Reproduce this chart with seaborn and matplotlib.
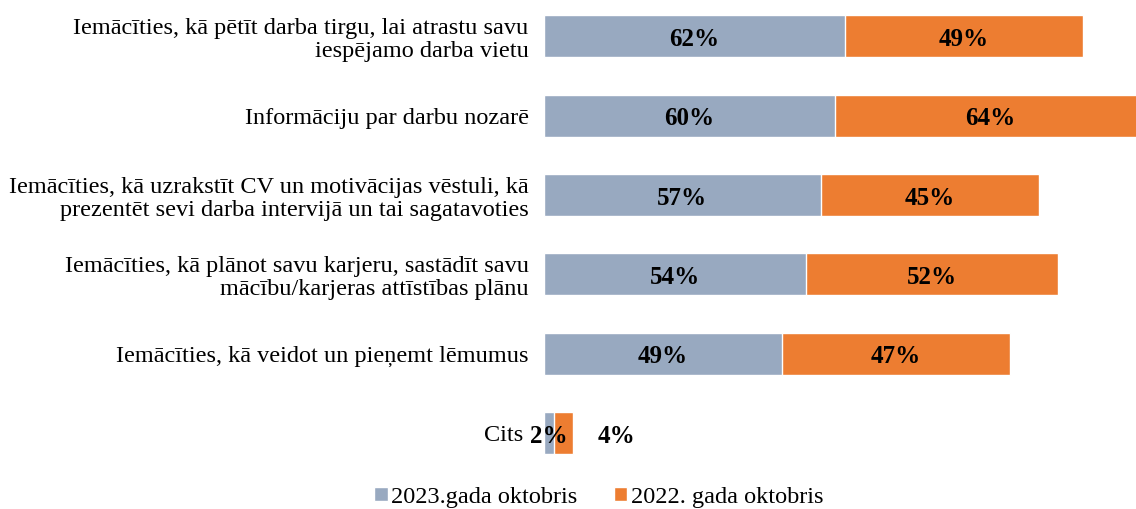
import matplotlib as mpl
import matplotlib.pyplot as plt
import numpy as np
import pandas as pd
import seaborn as sns

categories = [
    'Iemācīties, kā pētīt darba tirgu, lai atrastu savu\niespējamo darba vietu',
    'Informāciju par darbu nozarē',
    'Iemācīties, kā uzrakstīt CV un motivācijas vēstuli, kā\nprezentēt sevi darba intervijā un tai sagatavoties',
    'Iemācīties, kā plānot savu karjeru, sastādīt savu\nmācību/karjeras attīstības plānu',
    'Iemācīties, kā veidot un pieņemt lēmumus',
    'Cits',
]
oct_2023 = [62, 60, 57, 54, 49, 2]
oct_2022 = [49, 64, 45, 52, 47, 4]
series_names = ['2023.gada oktobris', '2022. gada oktobris']

grey = '#98A9C0'
orange = '#ED7D31'

sns.set_theme(style='white')
plt.rcParams['font.family'] = ['Liberation Serif', 'DejaVu Serif']
plt.rcParams['text.color'] = 'black'
plt.rcParams['ytick.color'] = 'black'

df = pd.DataFrame({
    'category': categories,
    'v2023': oct_2023,
    'v2022': oct_2022,
})
df['total'] = df['v2023'] + df['v2022']

fig = plt.figure(figsize=(11.36, 5.09), dpi=100)
ax = fig.add_axes([544 / 1136, 39 / 509, 1 - 544 / 1136, 470 / 509])

# stacked bars: total (orange) underneath, 2023 (grey) on top
sns.barplot(data=df, x='total', y='category', color=orange, width=0.53,
            saturation=1, ax=ax, orient='h', label=series_names[1])
sns.barplot(data=df, x='v2023', y='category', color=grey, width=0.53,
            saturation=1, ax=ax, orient='h', label=series_names[0])

ax.set_xlim(0, 122)
ax.set_ylim(5.467, -0.46)
for s in ax.spines.values():
    s.set_visible(False)
ax.set_xticks([])
ax.set_xlabel('')
ax.set_ylabel('')
ax.tick_params(axis='y', length=0, pad=11, labelsize=17.5, labelcolor='black')
for t in ax.get_yticklabels():
    t.set_linespacing(1.15)
# "Cits" sits a bit further from the axis in the original
ax.get_yticklabels()[-1].set_x(-0.01)

# value labels
for i, (a, b) in enumerate(zip(oct_2023, oct_2022)):
    ax.text(a / 2, i + 0.04, f'{a}%', ha='center', va='center',
            fontsize=18, fontweight='bold', color='black')
    if b < 8:
        xb = a + b + 9
    else:
        xb = a + b / 2
    ax.text(xb, i + 0.04, f'{b}%', ha='center', va='center',
            fontsize=18, fontweight='bold', color='black')

handles, labels = ax.get_legend_handles_labels()
if ax.get_legend() is not None:
    ax.get_legend().remove()
order = [labels.index(n) for n in series_names]
fig.legend([handles[k] for k in order], series_names,
           loc='center', bbox_to_anchor=(599 / 1136, 1 - 497 / 509),
           ncol=2, frameon=False, fontsize=17.5, handlelength=0.55,
           handleheight=0.55, handletextpad=0.15, columnspacing=1.5)

fig.savefig('out.png', dpi=100)
